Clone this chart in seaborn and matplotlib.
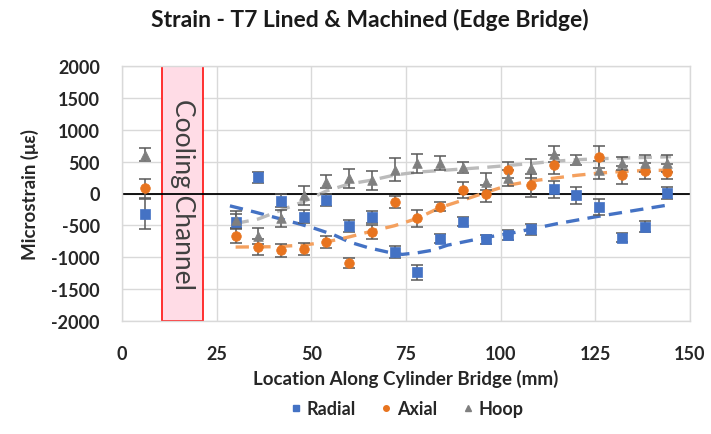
import numpy as np
import pandas as pd
import matplotlib
matplotlib.use("Agg")
import matplotlib.pyplot as plt
import seaborn as sns
from matplotlib.patches import Rectangle
from matplotlib.lines import Line2D

# ---- data ----
locations = [6, 30, 36, 42, 48, 54, 60, 66, 72, 78, 84, 90, 96, 102, 108, 114, 120, 126, 132, 138, 144]
radial = [-320, -440, 255, -110, -366, -105, -508, -366, -920, -1235, -707, -440, -720, -655, -561, 63, -28, -209, -697, -520, 5]
radial_err = [240, 120, 90, 100, 100, 90, 90, 90, 90, 120, 70, 70, 70, 80, 90, 130, 130, 130, 70, 90, 90]
axial = [85, -660, -839, -891, -870, -760, -1085, -605, -135, -390, -209, 52, 0, 366, 131, 450, np.nan, 577, 288, 351, 341]
axial_err = [150, 120, 130, 100, 100, 100, 80, 110, 90, 130, 70, 130, 140, 130, 180, 150, 0, 170, 140, 120, 120]
hoop = [610, -410, -665, -390, -30, 184, 236, 210, 370, 472, 472, 410, 184, 245, 393, 620, 530, 366, 472, 472, 472]
hoop_err = [100, 130, 120, 130, 150, 100, 150, 150, 180, 150, 110, 90, 130, 130, 150, 120, 80, 140, 100, 130, 130]

trend_x_radial = [28.5, 35, 41, 47, 51, 56, 60, 65, 70, 74, 78, 82, 86, 96, 103, 115, 125, 145]
trend_radial = [-194, -290, -385, -480, -550, -650, -760, -850, -917, -955, -930, -890, -810, -690, -620, -472, -366, -173]
trend_x_axial = [30, 40, 48, 54, 60, 66, 72, 78, 84, 90, 96, 102, 108, 114, 120, 126, 132, 138, 145]
trend_axial = [-840, -835, -810, -760, -681, -590, -505, -390, -220, -105, 15, 130, 195, 240, 285, 320, 345, 360, 366]
trend_x_hoop = [30, 36, 42, 48, 54, 60, 66, 72, 78, 84, 90, 96, 102, 108, 114, 120, 126, 132, 138, 145]
trend_hoop = [-470, -400, -262, -126, 40, 150, 210, 290, 335, 360, 385, 410, 440, 470, 505, 530, 545, 555, 565, 577]

series_names = ["Radial", "Axial", "Hoop"]
title_text = "Strain - T7 Lined & Machined (Edge Bridge)"
x_ticks = [0, 25, 50, 75, 100, 125, 150]
y_ticks = [-2000, -1500, -1000, -500, 0, 500, 1000, 1500, 2000]
channel_span = [10.5, 21.5]

colors = {"Radial": "#4472C4", "Axial": "#E8741F", "Hoop": "#7F7F7F"}
trend_colors = {"Radial": "#4472C4", "Axial": "#F4A05E", "Hoop": "#BBBBBB"}
markers = {"Radial": "s", "Axial": "o", "Hoop": "^"}

sns.set_style("white")
plt.rcParams["font.family"] = ["Lato", "DejaVu Sans"]

fig = plt.figure(figsize=(7.11, 4.35), dpi=100)
ax = fig.add_axes([122 / 711, 1 - 322 / 435, 568 / 711, 255 / 435])

df = pd.DataFrame({
    "x": locations * 3,
    "y": radial + axial + hoop,
    "err": radial_err + axial_err + hoop_err,
    "series": ["Radial"] * len(locations) + ["Axial"] * len(locations) + ["Hoop"] * len(locations),
})

# cooling channel box
ax.add_patch(Rectangle((channel_span[0], -2000), channel_span[1] - channel_span[0], 4000,
                       facecolor="#FFDCE6", edgecolor="#FF2020", linewidth=1.3, zorder=1.5))
ax.text(sum(channel_span) / 2, 0, "Cooling Channel", rotation=270, ha="center", va="center",
        fontsize=19, color="#404040", zorder=2)

ax.axhline(0, color="black", linewidth=1.3, zorder=2)

# trend lines
for name, tx, ty in [("Radial", trend_x_radial, trend_radial),
                     ("Axial", trend_x_axial, trend_axial),
                     ("Hoop", trend_x_hoop, trend_hoop)]:
    sns.lineplot(x=tx, y=ty, ax=ax, color=trend_colors[name], linewidth=2.4,
                 linestyle=(0, (4, 2.5)), zorder=3, legend=False)

# error bars and markers
for name in series_names:
    sub = df[df.series == name].dropna()
    sub = sub[sub.err > 0]
    ax.errorbar(sub.x, sub.y, yerr=sub.err, fmt="none", ecolor="#595959",
                elinewidth=1.1, capsize=4, capthick=1.1, zorder=4)
    sns.scatterplot(data=sub, x="x", y="y", ax=ax, marker=markers[name],
                    color=colors[name], s=48, edgecolor=colors[name], linewidth=0.5,
                    zorder=5, legend=False)

ax.set_xlim(0, 150)
ax.set_ylim(-2000, 2000)
ax.set_xticks(x_ticks)
ax.set_yticks(y_ticks)
ax.set_xticklabels([str(t) for t in x_ticks], fontsize=13, fontweight="bold", color="#262626")
ax.set_yticklabels([str(t) for t in y_ticks], fontsize=13, fontweight="bold", color="#262626")
ax.tick_params(axis="x", length=0, pad=17)
ax.tick_params(axis="y", length=0, pad=16)
ax.grid(True, color="#D9D9D9", linewidth=1)
ax.set_axisbelow(True)
for sp in ax.spines.values():
    sp.set_color("#D9D9D9")
    sp.set_linewidth(1)

ax.set_xlabel("Location Along Cylinder Bridge (mm)", fontsize=13.5, fontweight="bold",
              color="#262626", labelpad=5)
ax.set_ylabel("Microstrain (με)", fontsize=13.5, fontweight="bold", color="#262626", labelpad=9)
fig.text(0.52, 0.955, title_text, ha="center", va="center", fontsize=16.5,
         fontweight="bold", color="#1a1a1a")

handles = [Line2D([], [], linestyle="none", marker=markers[n], color=colors[n], markersize=4)
           for n in series_names]
fig.legend(handles, series_names, loc="center", bbox_to_anchor=(0.57, 0.058), ncol=3,
           frameon=False, handletextpad=0.1, columnspacing=1.2, handlelength=1.0,
           prop={"weight": "bold", "size": 13})

fig.savefig("out.png", dpi=100)
